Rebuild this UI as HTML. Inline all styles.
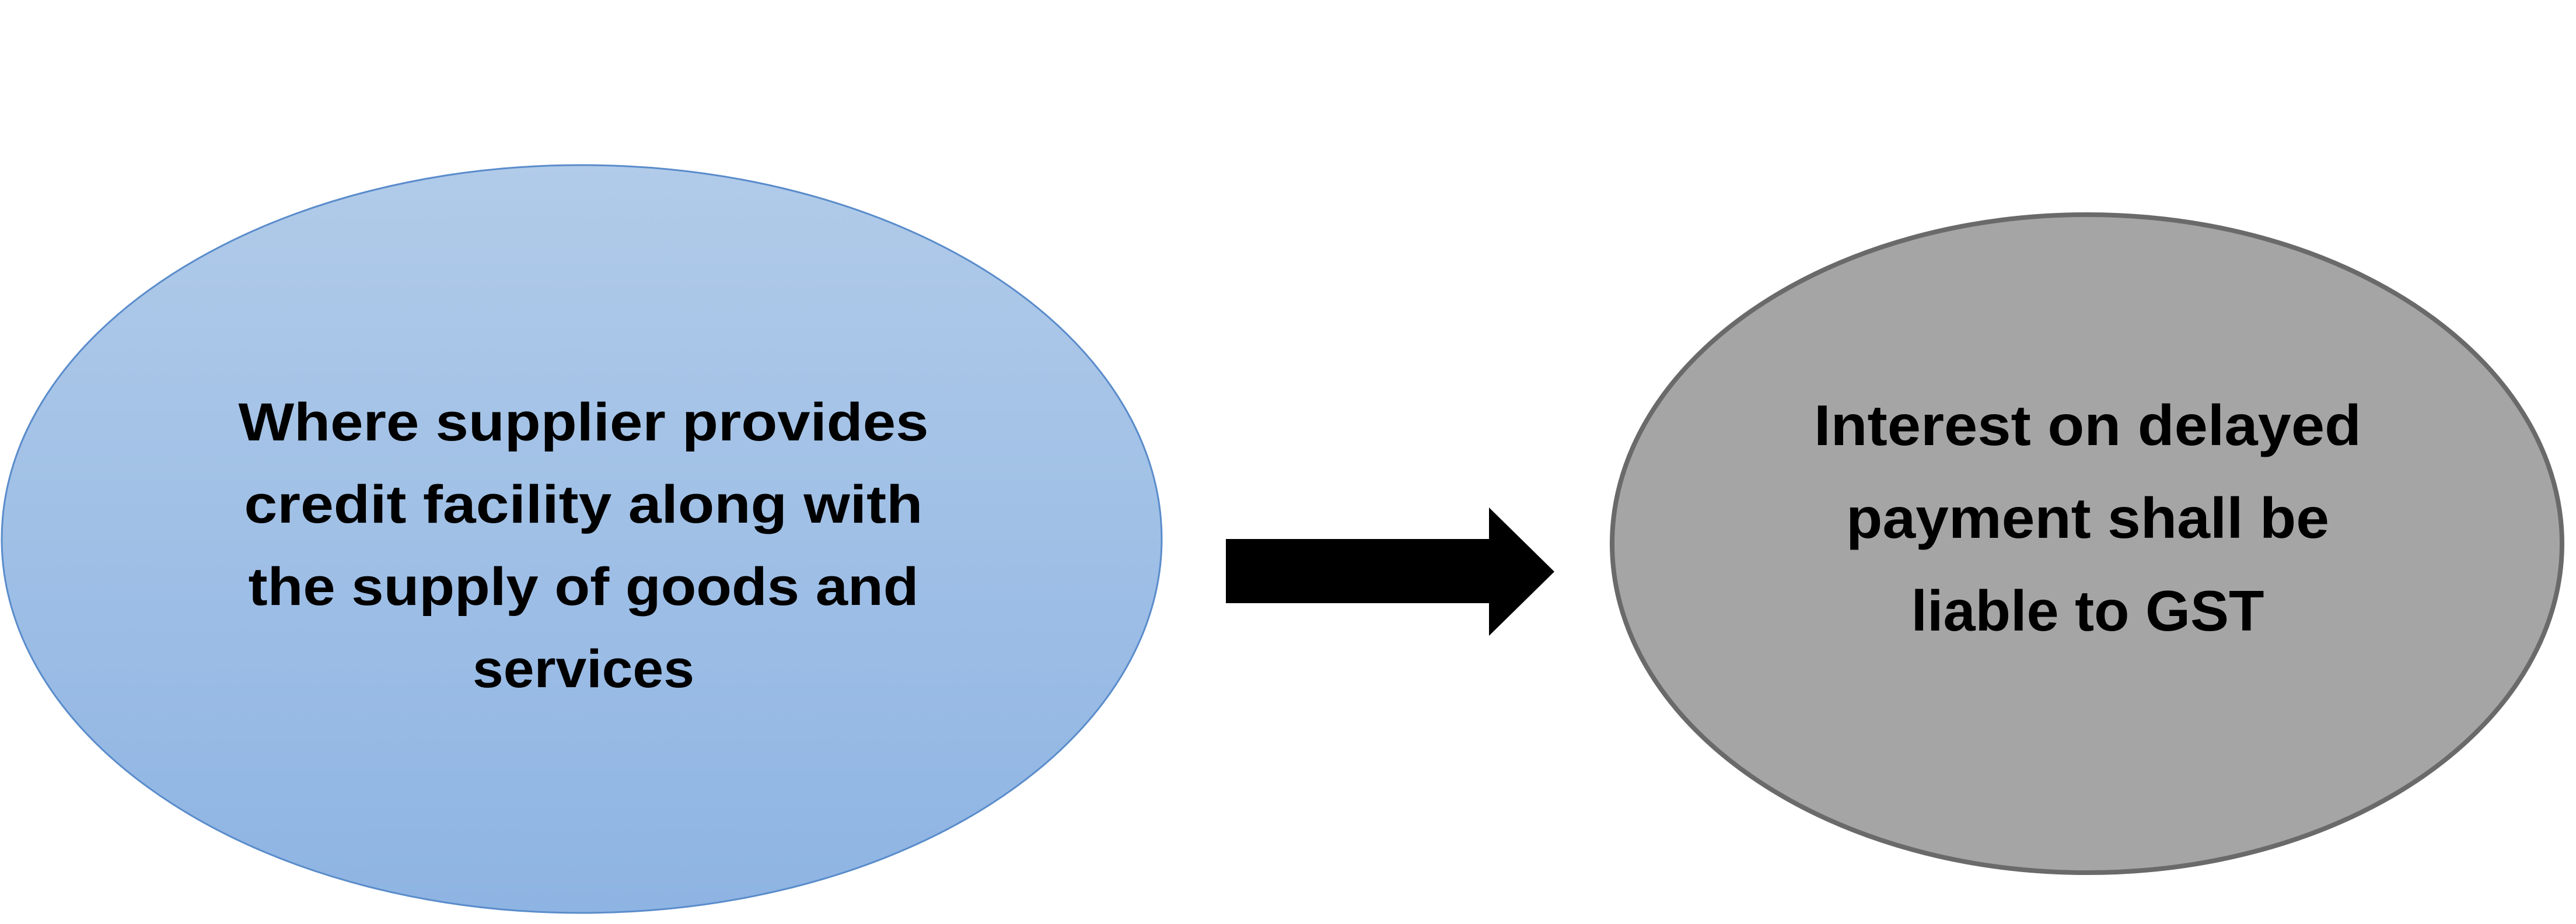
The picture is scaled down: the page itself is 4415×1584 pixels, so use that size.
<!DOCTYPE html>
<html><head><meta charset="utf-8"><style>html,body{margin:0;padding:0;background:#fff}svg{display:block}</style></head>
<body>
<svg width="4415" height="1584" viewBox="0 0 4415 1584" xmlns="http://www.w3.org/2000/svg">
<defs>
<linearGradient id="g" x1="0" y1="0" x2="0" y2="1">
<stop offset="0" stop-color="#b1cbe9"/>
<stop offset="1" stop-color="#8eb4e3"/>
</linearGradient>
</defs>
<ellipse cx="997" cy="924" rx="994" ry="641" fill="url(#g)" stroke="#5a8ccb" stroke-width="3"/>
<ellipse cx="3577" cy="932" rx="814" ry="564" fill="#a5a5a5" stroke="#6a6a6a" stroke-width="8"/>
<polygon points="2101,924 2552,924 2552,870 2664,980 2552,1090 2552,1034 2101,1034" fill="#000"/>
<g font-family="Liberation Sans, sans-serif" font-weight="bold" font-size="92" fill="#000" text-anchor="middle">
<text x="1000" y="755" textLength="1183" lengthAdjust="spacingAndGlyphs">Where supplier provides</text>
<text x="1000" y="896" textLength="1163" lengthAdjust="spacingAndGlyphs">credit facility along with</text>
<text x="1000" y="1037" textLength="1149" lengthAdjust="spacingAndGlyphs">the supply of goods and</text>
<text x="1000" y="1178" textLength="380" lengthAdjust="spacingAndGlyphs">services</text>
<text x="3578" y="763" font-size="98" textLength="938" lengthAdjust="spacingAndGlyphs">Interest on delayed</text>
<text x="3578" y="922" font-size="98" textLength="828" lengthAdjust="spacingAndGlyphs">payment shall be</text>
<text x="3578" y="1081" font-size="98" textLength="605" lengthAdjust="spacingAndGlyphs">liable to GST</text>
</g>
</svg>
</body></html>
